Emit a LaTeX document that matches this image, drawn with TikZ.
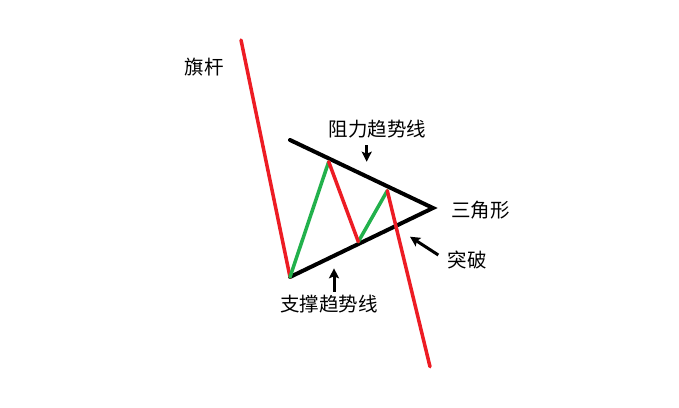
\documentclass[tikz,border=0pt]{standalone}
\usepackage{fontspec}
\setmainfont{Noto Sans CJK SC}
\usetikzlibrary{arrows.meta}
\definecolor{paintred}{RGB}{237,28,36}
\definecolor{paintgreen}{RGB}{34,177,76}

\begin{document}
\begin{tikzpicture}[
x=1pt, y=-1pt,
line cap=round,
trendline/.style={
draw=black,
line width=4pt,
},
swing/.style={
line width=3.5pt,
},
label/.style={
font=\fontsize{19.5}{20}\selectfont,
inner sep=0 pt,
},
pointer/.style={
line width=3pt,
line cap=butt,
-{Stealth[length=10pt, width=10pt, inset=2pt]},
}
]
\useasboundingbox (0,0) rectangle (679,407);

% price path
\path
(241,40) coordinate(top)
(290,277) coordinate(low)
(290,140) coordinate(upstart)
(433,208) coordinate(apex)
(328.7,161.7) coordinate(p1)
(358.3,241.7) coordinate(p2)
(387.3,190.7) coordinate(p3)
(430,366.7) coordinate(bottom)
;

% triangle
\draw[trendline] (upstart) -- (apex) -- (low);

\draw[swing, paintred] (top) -- (low);
\draw[swing, paintgreen]
(low) -- (p1)
(p2) -- (p3)
;
\draw[swing, paintred]
(p1) -- (p2)
(p3) -- (bottom)
;

% labels
\path[every node/.style={label}]
(204,67.5) node (pole) {旗杆}
(377.5,129) node (resist) {阻力趋势线}
(480.5,210.5) node (tri) {三角形}
(467,260) node (brk) {突破}
(329,304) node (support) {支撑趋势线}
;

% pointers
\path
(366.7,145) coordinate(r1)
(366.7,161.7) coordinate(r2)
(334,291.7) coordinate(s1)
(334,268.3) coordinate(s2)
(438.3,255) coordinate(b1)
(410,236.7) coordinate(b2)
;
\draw[pointer] (r1) -- (r2);
\draw[pointer] (s1) -- (s2);
\draw[pointer] (b1) -- (b2);

\end{tikzpicture}
\end{document}
